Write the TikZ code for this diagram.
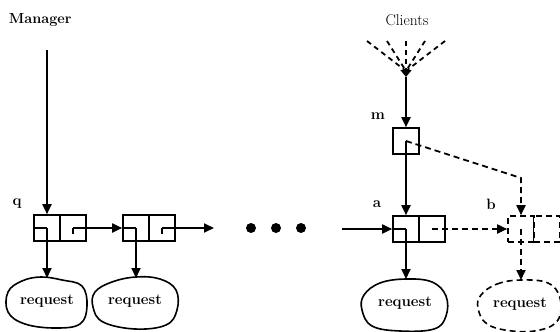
\documentclass[tikz,border=0pt]{standalone}
\usetikzlibrary{arrows.meta,calc}
\begin{document}
\begin{tikzpicture}[x=1pt,y=-1pt,
  line width=1.8pt,
  tip/.style={-{Triangle[length=10pt,width=9pt]}},
  dsh/.style={dash pattern=on 6pt off 4pt},
  fdsh/.style={dash pattern=on 5pt off 4pt},
  cell/.style={draw,rectangle,minimum width=26pt,minimum height=26pt,inner sep=0pt,line width=1.6pt},
  lbl/.style={font=\fontsize{15}{18}\selectfont\bfseries,inner sep=0pt},
  req/.style={font=\fontsize{15}{18}\selectfont\bfseries,inner sep=0pt},
  dotn/.style={circle,fill,inner sep=0pt,minimum size=10pt}]
\useasboundingbox (0,0) rectangle (560,332);

% titles
\node[lbl,anchor=west,font=\fontsize{14.5}{17}\selectfont\bfseries] (mgr) at (8,20) {Manager};
\node[inner sep=0pt,font=\fontsize{15.5}{18}\selectfont] (cli) at (407,20) {Clients};

% labels
\node[lbl] (lq) at (17,204) {q};
\node[lbl] (lm) at (378,116) {m};
\node[lbl] (la) at (377,204) {a};
\node[lbl] (lb) at (491,204) {b};

% boxes
\node[cell] (q1l) at (47,228) {};
\node[cell] (q1r) at (73,228) {};
\node[cell] (q2l) at (136,228) {};
\node[cell] (q2r) at (162,228) {};
\node[cell] (al) at (406,229) {};
\node[cell] (ar) at (432,229) {};
\node[cell,dsh] (bl) at (521,229) {};
\node[cell,dsh] (br) at (546.5,229) {};
\node[cell] (m) at (406,141) {};

% dots
\node[dotn] (d1) at (251,228) {};
\node[dotn] (d2) at (276,228) {};
\node[dotn] (d3) at (301,228) {};

% request blobs
\node[req] (r1) at (47,301) {request};
\node[req] (r2) at (135,301) {request};
\node[req] (r3) at (405,303) {request};
\node[req] (r4) at (520,304) {request};

\draw[line width=1.6pt] plot[smooth cycle,tension=0.65] coordinates {
 (8,292) (22,281) (41,277) (62,280) (82,286) (87,306) (80,324) (55,328) (25,324) (8,312)};
\draw[line width=1.6pt] plot[smooth cycle,tension=0.65] coordinates {
 (95,292) (112,282) (136,277) (160,279) (176,290) (177,310) (166,325) (135,329) (103,322) (93,307)};
\draw[line width=1.6pt] plot[smooth cycle,tension=0.65] coordinates {
 (364,295) (380,283) (406,279) (432,282) (446,296) (446,316) (434,329) (400,331) (372,326) (362,310)};
\draw[line width=1.6pt,dsh] plot[smooth cycle,tension=0.65] coordinates {
 (481,295) (497,284) (521,280) (548,283) (560,298) (558,320) (540,330) (512,331) (487,324) (478,308)};

% coordinates
\coordinate (mtop) at (47,50);
\coordinate (q2end) at (214,228);
\coordinate (astart) at (342,229);
\coordinate (apex) at (406,71);
\coordinate (apexb) at (406,77);
\coordinate (bend) at (521,178);
\coordinate (f1) at (367,41);
\coordinate (f2) at (387,41);
\coordinate (f3) at (406,41);
\coordinate (f4) at (425,41);
\coordinate (f5) at (445,41);

% pointer origin stubs
\draw (q1l.west) -- (q1l.center);
\draw (q2l.west) -- (q2l.center);
\draw (al.west) -- (al.center);
\draw (q1r.center) -- +(0,6);
\draw (q2r.center) -- +(0,6);

% connectors
\draw[tip] (mtop) -- (q1l.north);
\draw[tip] (q1l.center) -- (47,278);
\draw[tip] (q1r.center) -- (q2l.west);
\draw[tip] (q2l.center) -- (136,278);
\draw[tip] (q2r.center) -- (q2end);
\draw[tip] (astart) -- (al.west);
\draw[tip] (al.center) -- (406,279);
\draw[tip,dsh] (ar.center) -- (bl.west);
\draw[tip,dsh] (bl.center) -- (521,280);
\draw[tip] (m.center) -- (al.north);
\draw[tip,dsh] (m.center) -- (bend) -- (bl.north);

% fan
\foreach \f in {f1,f2,f4,f5} \draw[fdsh] (\f) -- (apex);
\draw[fdsh,-{Triangle[length=7pt,width=11pt]}] (f3) -- (apexb);
\draw[tip] (apexb) -- (m.north);
\end{tikzpicture}
\end{document}
